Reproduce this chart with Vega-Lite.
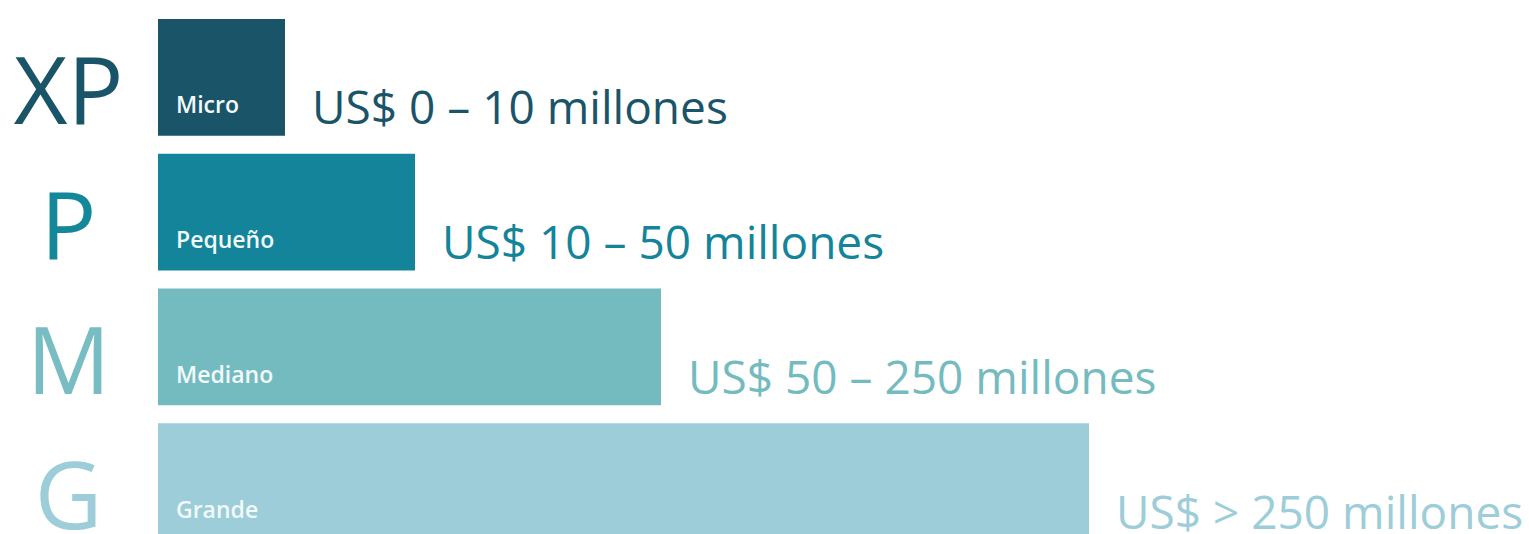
{
  "$schema": "https://vega.github.io/schema/vega-lite/v6.json",
  "width": 1371,
  "height": 534,
  "autosize": "none",
  "padding": {"left": 158, "top": 0, "right": 0, "bottom": 0},
  "background": "white",
  "config": {"view": {"stroke": null}},
  "data": {
    "values": [
      {"size": "Micro", "letter": "XP", "length": 127, "range": "US$ 0 – 10 millones"},
      {"size": "Pequeño", "letter": "P", "length": 257, "range": "US$ 10 – 50 millones"},
      {"size": "Mediano", "letter": "M", "length": 503, "range": "US$ 50 – 250 millones"},
      {"size": "Grande", "letter": "G", "length": 931, "range": "US$ > 250 millones"}
    ]
  },
  "encoding": {
    "y": {
      "field": "size",
      "type": "nominal",
      "sort": null,
      "scale": {
        "domain": ["Micro", "Pequeño", "Mediano", "Grande"],
        "range": [19, 540],
        "paddingInner": 0.133,
        "paddingOuter": 0
      },
      "axis": {
        "title": null,
        "domain": false,
        "ticks": false,
        "tickSize": 0,
        "grid": false,
        "labelPadding": 90,
        "labelAlign": "center",
        "labelBaseline": "alphabetic",
        "labelOffset": 47,
        "labelFontSize": 93,
        "labelFont": "Open Sans",
        "labelFontWeight": 400,
        "labelLimit": 0,
        "labelExpr": "datum.value == 'Micro' ? 'XP' : datum.value == 'Pequeño' ? 'P' : datum.value == 'Mediano' ? 'M' : 'G'",
        "labelColor": {
          "condition": [
            {"test": "datum.value == 'Micro'", "value": "#1a5469"},
            {"test": "datum.value == 'Pequeño'", "value": "#14879a"},
            {"test": "datum.value == 'Mediano'", "value": "#78bdc3"}
          ],
          "value": "#9ccdd8"
        }
      }
    }
  },
  "layer": [
    {
      "mark": {"type": "bar"},
      "encoding": {
        "x": {"field": "length", "type": "quantitative", "scale": {"domain": [0, 1371], "nice": false}, "axis": null},
        "color": {
          "field": "size",
          "type": "nominal",
          "scale": {
            "domain": ["Micro", "Pequeño", "Mediano", "Grande"],
            "range": ["#1a5469", "#13849a", "#74bbc0", "#9ccdd8"]
          },
          "legend": null
        }
      }
    },
    {
      "mark": {"type": "text", "align": "left", "baseline": "alphabetic", "dx": 18, "dy": 36, "font": "Open Sans", "fontSize": 23, "fontWeight": 600, "color": "#f2fafb"},
      "encoding": {
        "x": {"datum": 0, "type": "quantitative"},
        "text": {"field": "size"}
      }
    },
    {
      "mark": {"type": "text", "align": "left", "baseline": "alphabetic", "dx": 27, "dy": 47, "font": "Open Sans", "fontSize": 46, "fontWeight": 500},
      "encoding": {
        "x": {"field": "length", "type": "quantitative"},
        "text": {"field": "range"},
        "color": {"field": "size", "type": "nominal", "legend": null}
      }
    }
  ]
}
